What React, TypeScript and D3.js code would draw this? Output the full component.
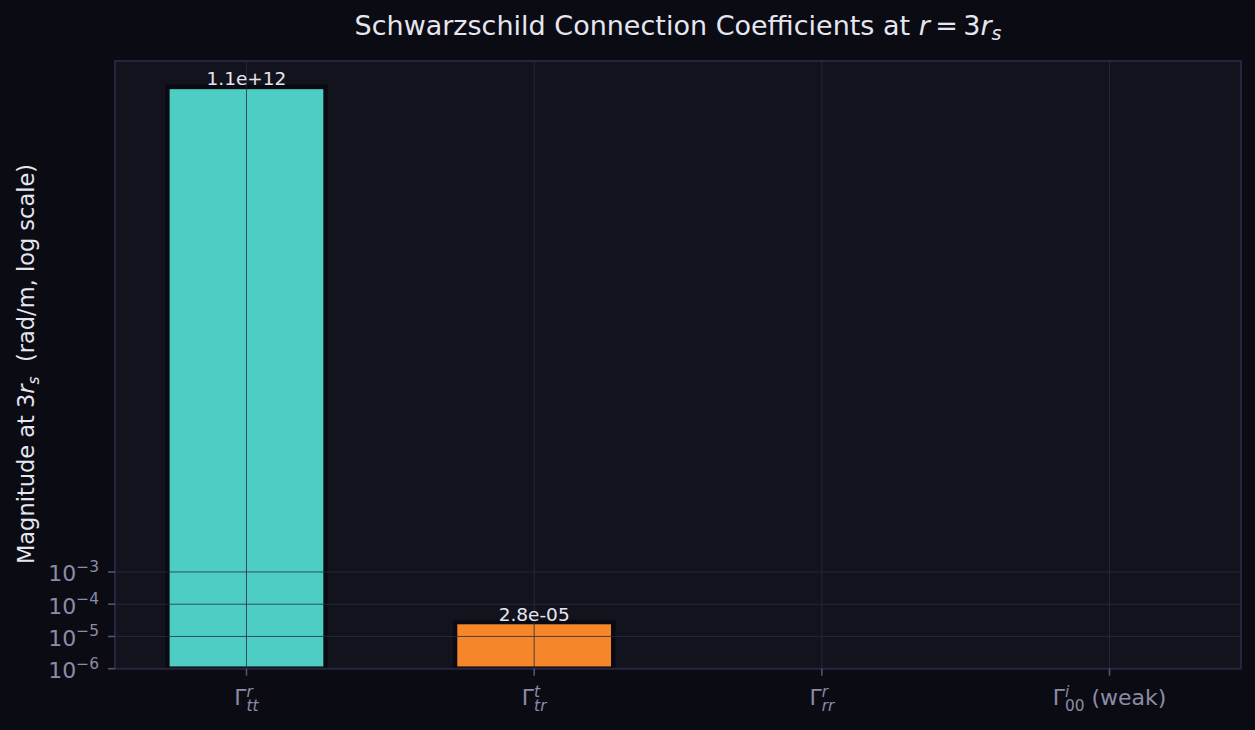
import React from 'react';
import * as d3 from 'd3';

// Christoffel symbol labels: Γ^{sup}_{sub} + tail
const labelSup = ['r', 't', 'r', 'i'];
const labelSub = ['tt', 'tr', 'rr', '00'];
const labelTail = ['', '', '', ' (weak)'];
const keys = ['Gr_tt', 'Gt_tr', 'Gr_rr', 'Gi_00'];

// magnitudes at r = 3 r_s (negative / zero values vanish on a log axis)
const values = [1.1e12, 2.8e-5, -2.8e-5, 0];
const barColors = ['#4ECDC4', '#F5862A', '#A78BFA', '#F472B6'];

const yTicks = [1e-6, 1e-5, 1e-4, 1e-3];
const yTickExp = ['−6', '−5', '−4', '−3'];
const yMin = 1e-6;
const yMax = 7e12;

const W = 1255;
const H = 730;
const m = { left: 115, right: 1241, top: 61, bottom: 668.7 };

const FONT = '"DejaVu Sans", sans-serif';
const BG = '#0b0b14';
const PANEL = '#13131e';
const SPINE = '#2a2745';
const GRID = '#2a2a42';
const TEXT = '#e6e6f0';
const TICKTXT = '#8c8ca4';

// rough DejaVu Sans advance widths (em)
const cw: Record<string, number> = {
  'Γ': 0.557, t: 0.392, r: 0.411, '0': 0.636, i: 0.278, ' ': 0.318,
  '(': 0.39, ')': 0.39, w: 0.818, e: 0.615, a: 0.613, k: 0.579,
};
const textW = (s: string, size: number) =>
  s.split('').reduce((acc, ch) => acc + (cw[ch] ?? 0.6), 0) * size;

const fmt = (v: number) => {
  const [mant, ex] = v.toExponential(1).split('e');
  const sign = ex[0] === '-' ? '-' : '+';
  return `${mant}e${sign}${ex.replace(/[+-]/, '').padStart(2, '0')}`;
};

export default function App() {
  const x = d3.scaleBand<string>()
    .domain(keys)
    .range([m.left, m.right])
    .paddingInner(0.45)
    .paddingOuter(0.182);

  const y = d3.scaleLog().domain([yMin, yMax]).range([m.bottom, m.top]);

  const bars = keys.map((k, i) => ({ k, v: values[i], color: barColors[i] }))
    .filter(d => d.v > 0);

  const tickSize = 22;
  const scriptSize = 15.4;

  return (
    <div style={{ position: 'absolute', left: 0, top: 0, width: W, height: H, background: BG }}>
      <svg width={W} height={H} style={{ display: 'block' }} fontFamily={FONT}>
        <defs>
          <clipPath id="plot-clip">
            <rect x={m.left} y={m.top} width={m.right - m.left} height={m.bottom - m.top} />
          </clipPath>
        </defs>
        <rect width={W} height={H} fill={BG} />
        <rect x={m.left} y={m.top} width={m.right - m.left} height={m.bottom - m.top} fill={PANEL} />

        {/* bars */}
        <g clipPath="url(#plot-clip)">
          {bars.map(d => (
            <rect
              key={d.k}
              x={x(d.k)}
              y={y(d.v)}
              width={x.bandwidth()}
              height={m.bottom - y(d.v)}
              fill={d.color}
              stroke="#0a0a12"
              strokeWidth={4.5}
            />
          ))}
        </g>

        {/* grid over bars */}
        <g stroke={GRID} strokeOpacity={0.8} strokeWidth={1}>
          {keys.map(k => {
            const cx = (x(k) ?? 0) + x.bandwidth() / 2;
            return <line key={k} x1={cx} x2={cx} y1={m.top} y2={m.bottom} />;
          })}
          {yTicks.map(t => (
            <line key={t} x1={m.left} x2={m.right} y1={y(t)} y2={y(t)} />
          ))}
        </g>

        {/* spines */}
        <rect x={m.left} y={m.top} width={m.right - m.left} height={m.bottom - m.top}
          fill="none" stroke={SPINE} strokeWidth={1.8} />

        {/* y ticks */}
        {yTicks.map((t, i) => (
          <g key={t}>
            <line x1={m.left - 7} x2={m.left} y1={y(t)} y2={y(t)} stroke="#55536a" strokeWidth={1.6} />
            <text x={99} y={y(t) + 9.5} textAnchor="end" fill={TICKTXT} fontSize={tickSize}>
              10<tspan dy={-9.5} fontSize={scriptSize}>{yTickExp[i]}</tspan>
            </text>
          </g>
        ))}

        {/* x ticks with Γ labels */}
        {keys.map((k, i) => {
          const cx = (x(k) ?? 0) + x.bandwidth() / 2;
          const gW = textW('Γ', tickSize);
          const scriptW = Math.max(textW(labelSup[i], scriptSize), textW(labelSub[i], scriptSize));
          const tailW = textW(labelTail[i], tickSize);
          const total = gW + scriptW + tailW;
          const x0 = cx - total / 2;
          const base = 705;
          return (
            <g key={k} fill={TICKTXT}>
              <line x1={cx} x2={cx} y1={m.bottom} y2={m.bottom + 7} stroke="#55536a" strokeWidth={1.6} />
              <text x={x0} y={base} fontSize={tickSize} style={{ whiteSpace: 'pre' }}>
                Γ
                <tspan dy={-8.5} fontSize={scriptSize} fontStyle="italic">{labelSup[i]}</tspan>
                <tspan x={x0 + gW} dy={14.5} fontSize={scriptSize}
                  fontStyle={labelSub[i] === '00' ? 'normal' : 'italic'}>{labelSub[i]}</tspan>
                {labelTail[i] && (
                  <tspan x={x0 + gW + scriptW} dy={-6}>{labelTail[i]}</tspan>
                )}
              </text>
            </g>
          );
        })}

        {/* value labels */}
        {bars.map(d => (
          <text
            key={d.k}
            x={(x(d.k) ?? 0) + x.bandwidth() / 2}
            y={y(d.v) - 1.5}
            textAnchor="middle"
            fill={TEXT}
            fontSize={18.5}
          >
            {fmt(d.v)}
          </text>
        ))}

        {/* title */}
        <text x={(m.left + m.right) / 2} y={35} textAnchor="middle" fill={TEXT} fontSize={27}>
          Schwarzschild Connection Coefficients at <tspan fontStyle="italic">r</tspan>
          {'\u2009=\u20093'}<tspan fontStyle="italic">r</tspan>
          <tspan fontStyle="italic" fontSize={19} dy={5}>s</tspan>
        </text>

        {/* y label */}
        <text
          transform={`translate(34, 364) rotate(-90)`}
          textAnchor="middle"
          fill={TEXT}
          fontSize={22.5}
        >
          Magnitude at 3<tspan fontStyle="italic">r</tspan>
          <tspan fontStyle="italic" fontSize={15.5} dy={4.5}>s</tspan>
          <tspan dy={-4.5}>{'\u00a0\u00a0(rad/m, log scale)'}</tspan>
        </text>
      </svg>
    </div>
  );
}
